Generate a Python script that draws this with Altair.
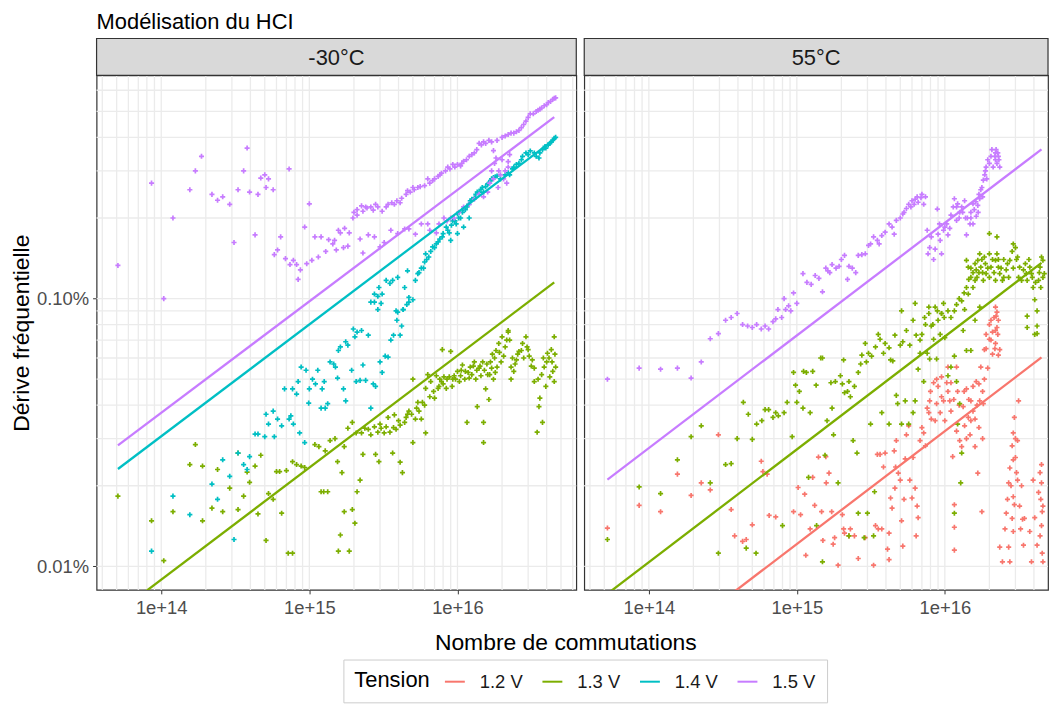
import altair as alt
import pandas as pd

FONT = "Liberation Sans"

title_text = "Modélisation du HCI"
x_title = "Nombre de commutations"
y_title = "Dérive fréquentielle"
legend_title = "Tension"
panels = ["-30°C", "55°C"]
tensions = ["1.2 V", "1.3 V", "1.4 V", "1.5 V"]
colors = ["#F8766D", "#7CAE00", "#00BFC4", "#C77CFF"]

x_ticks = [1e14, 1e15, 1e16]
x_tick_labels = ["1e+14", "1e+15", "1e+16"]
y_ticks = [0.01, 0.1]          # percent
y_tick_labels = ["0.01%", "0.10%"]

# ---------------- -30°C panel, measured points (x, drift in %) ----------------
cold_13 = [(5.1e13, 0.0183), (8.6e13, 0.0148), (1.04e14, 0.0105), (1.2e14, 0.016), (1.56e14, 0.024),
           (1.7e14, 0.0285), (1.9e14, 0.0148), (1.9e14, 0.0237), (2.2e14, 0.0165), (2.4e14, 0.023),
           (2.6e14, 0.016), (2.9e14, 0.0196), (3.3e14, 0.0265), (3.3e14, 0.0163), (3.6e14, 0.0183),
           (3.8e14, 0.0225), (3.95e14, 0.0206), (4.3e14, 0.0237), (4.5e14, 0.0157), (4.7e14, 0.026),
           (5.1e14, 0.0125), (5.3e14, 0.0187), (5.7e14, 0.0178), (6.0e14, 0.0226), (6.3e14, 0.0226),
           (6.5e14, 0.0158), (7.0e14, 0.0228), (7.2e14, 0.0112), (7.7e14, 0.0112), (7.7e14, 0.0246),
           (8.2e14, 0.024), (8.8e14, 0.0237), (9.3e14, 0.0234), (1.09e15, 0.0285), (1.16e15, 0.028),
           (1.2e15, 0.019), (1.25e15, 0.019), (1.33e15, 0.019), (1.28e15, 0.027), (1.38e15, 0.0295),
           (1.49e15, 0.030), (1.55e15, 0.0246), (1.57e15, 0.0114), (1.62e15, 0.0131), (1.66e15, 0.0224),
           (1.72e15, 0.016), (1.72e15, 0.028), (1.82e15, 0.0328), (1.86e15, 0.0114), (1.95e15, 0.0163),
           (1.95e15, 0.0345), (2.03e15, 0.0145), (2.07e15, 0.0315), (2.1e15, 0.019), (2.2e15, 0.021),
           (2.25e15, 0.0315), (2.3e15, 0.0262), (2.37e15, 0.0328), (2.5e15, 0.0325), (2.6e15, 0.031),
           (2.75e15, 0.0332), (2.8e15, 0.0262), (2.9e15, 0.0317), (2.95e15, 0.0246), (3.05e15, 0.0328),
           (3.2e15, 0.0315), (3.3e15, 0.0332), (3.5e15, 0.0317), (3.65e15, 0.0265), (3.75e15, 0.0368),
           (3.85e15, 0.0325), (4.1e15, 0.0245), (4.1e15, 0.0337), (4.25e15, 0.0224), (4.4e15, 0.0345),
           (4.6e15, 0.037), (4.7e15, 0.038), (5.0e15, 0.029), (5.0e15, 0.05), (5.2e15, 0.0355),
           (5.4e15, 0.041), (5.7e15, 0.0355), (5.8e15, 0.041), (6.1e15, 0.0315), (6.1e15, 0.0462),
           (6.3e15, 0.052), (6.6e15, 0.049), (7.0e15, 0.0425), (7.2e15, 0.0515), (7.4e15, 0.0462),
           (7.6e15, 0.05), (7.8e15, 0.049), (7.9e15, 0.0645), (8.1e15, 0.051), (8.4e15, 0.0462),
           (8.8e15, 0.051), (9.0e15, 0.0635), (9.3e15, 0.05), (9.5e15, 0.0515), (1.0e16, 0.0535),
           (1.03e16, 0.049), (1.05e16, 0.0515), (1.08e16, 0.0565), (1.13e16, 0.0535), (1.16e16, 0.0345),
           (1.2e16, 0.0505), (1.22e16, 0.0555), (1.3e16, 0.058), (1.33e16, 0.05), (1.36e16, 0.0395),
           (1.4e16, 0.055), (1.44e16, 0.0515), (1.48e16, 0.058), (1.5e16, 0.0345), (1.5e16, 0.029),
           (1.55e16, 0.046), (1.6e16, 0.052), (1.63e16, 0.042), (1.67e16, 0.058), (1.72e16, 0.062),
           (1.75e16, 0.05), (1.82e16, 0.064), (1.85e16, 0.0555), (1.9e16, 0.068), (2.0e16, 0.072),
           (2.05e16, 0.061), (2.2e16, 0.075), (2.2e16, 0.076), (2.25e16, 0.07), (2.3e16, 0.0555),
           (2.3e16, 0.05), (2.4e16, 0.0535), (2.5e16, 0.059), (2.6e16, 0.0635), (2.75e16, 0.068),
           (2.9e16, 0.072), (3.0e16, 0.0645), (3.2e16, 0.059), (3.3e16, 0.049), (3.45e16, 0.0317),
           (3.55e16, 0.0395), (3.6e16, 0.0425), (3.75e16, 0.0345), (3.85e16, 0.0555), (3.95e16, 0.047),
           (4.05e16, 0.0625), (4.2e16, 0.051), (4.3e16, 0.0645), (4.4e16, 0.0535), (4.5e16, 0.072),
           (4.6e16, 0.0555), (4.5e16, 0.049),
           (3.0e15, 0.034), (3.4e15, 0.036), (3.7e15, 0.033), (4.0e15, 0.035), (4.5e15, 0.036),
           (4.9e15, 0.037), (5.3e15, 0.039), (5.5e15, 0.038), (6.0e15, 0.040), (6.5e15, 0.043),
           (6.9e15, 0.045), (7.5e15, 0.047), (8.0e15, 0.048), (8.5e15, 0.050), (9.2e15, 0.047),
           (9.7e15, 0.050), (1.06e16, 0.054), (1.12e16, 0.050), (1.18e16, 0.053), (1.25e16, 0.052),
           (1.28e16, 0.056), (1.35e16, 0.054), (1.42e16, 0.056), (1.52e16, 0.054), (1.58e16, 0.057),
           (1.65e16, 0.052), (1.7e16, 0.055), (1.78e16, 0.060), (1.8e16, 0.053), (1.92e16, 0.063),
           (1.97e16, 0.058), (2.1e16, 0.066), (2.15e16, 0.070), (2.35e16, 0.060), (2.45e16, 0.057),
           (2.55e16, 0.062), (2.7e16, 0.064), (2.8e16, 0.060), (2.95e16, 0.066), (3.05e16, 0.061),
           (3.15e16, 0.056), (3.3e16, 0.055), (3.5e16, 0.050), (3.7e16, 0.052), (3.8e16, 0.060),
           (4.0e16, 0.058), (4.15e16, 0.060), (4.35e16, 0.058), (4.55e16, 0.062)]

cold_14 = [(1.2e14, 0.0183), (8.6e13, 0.0114), (1.56e14, 0.0156), (2.2e14, 0.0203), (2.4e14, 0.0178),
           (2.6e14, 0.025), (2.9e14, 0.0217), (3.1e14, 0.0126), (3.3e14, 0.0265), (3.6e14, 0.024),
           (3.8e14, 0.023), (3.95e14, 0.0257), (4.3e14, 0.0312), (4.5e14, 0.0312), (5.0e14, 0.0305),
           (5.1e14, 0.037), (5.3e14, 0.034), (5.7e14, 0.038), (5.8e14, 0.0305), (6.1e14, 0.0355),
           (6.5e14, 0.0335), (6.8e14, 0.046), (7.3e14, 0.0355), (7.5e14, 0.0365), (7.7e14, 0.046),
           (7.8e14, 0.034), (8.2e14, 0.044), (8.4e14, 0.049), (8.6e14, 0.0315), (8.8e14, 0.0555),
           (9.3e14, 0.029), (9.5e14, 0.054), (9.9e14, 0.0407), (1.0e15, 0.046), (1.05e15, 0.05),
           (1.1e15, 0.048), (1.14e15, 0.054), (1.2e15, 0.039), (1.22e15, 0.046), (1.26e15, 0.049),
           (1.28e15, 0.039), (1.33e15, 0.0405), (1.38e15, 0.058), (1.46e15, 0.057), (1.5e15, 0.0555),
           (1.55e15, 0.0505), (1.57e15, 0.064), (1.62e15, 0.066), (1.7e15, 0.046), (1.76e15, 0.0415),
           (1.76e15, 0.069), (1.82e15, 0.067), (1.93e15, 0.054), (1.98e15, 0.077), (2.03e15, 0.072),
           (2.07e15, 0.049), (2.1e15, 0.075), (2.2e15, 0.0495), (2.25e15, 0.076), (2.3e15, 0.0565),
           (2.4e15, 0.0495), (2.5e15, 0.073), (2.6e15, 0.039), (2.7e15, 0.048), (2.75e15, 0.097),
           (2.8e15, 0.047), (2.9e15, 0.091), (3.0e15, 0.058), (3.05e15, 0.096), (3.1e15, 0.053),
           (3.25e15, 0.061), (3.4e15, 0.0605), (3.55e15, 0.07), (3.7e15, 0.073), (3.9e15, 0.083),
           (3.95e15, 0.089), (4.1e15, 0.073), (4.2e15, 0.079), (4.3e15, 0.091), (4.55e15, 0.095),
           (4.7e15, 0.097), (2.6e15, 0.097), (2.75e15, 0.104), (2.9e15, 0.102), (2.95e15, 0.110),
           (3.1e15, 0.104), (3.3e15, 0.117), (3.5e15, 0.114), (3.65e15, 0.117), (3.85e15, 0.090),
           (3.95e15, 0.12), (4.3e15, 0.091), (4.4e15, 0.110), (4.6e15, 0.127), (4.7e15, 0.101),
           (5.0e15, 0.099), (5.2e15, 0.117), (5.4e15, 0.124), (5.7e15, 0.13), (6.0e15, 0.137),
           (6.1e15, 0.147), (6.4e15, 0.143), (6.8e15, 0.156), (7.2e15, 0.16), (7.6e15, 0.167),
           (7.9e15, 0.17), (8.4e15, 0.185), (8.8e15, 0.176), (9.3e15, 0.195), (9.8e15, 0.19),
           (1.0e16, 0.207), (1.05e16, 0.20), (1.1e16, 0.216), (1.16e16, 0.22), (1.22e16, 0.232),
           (1.3e16, 0.238), (1.36e16, 0.25), (1.44e16, 0.256), (1.5e16, 0.25), (1.6e16, 0.268),
           (1.67e16, 0.276), (1.75e16, 0.283), (1.85e16, 0.287), (1.95e16, 0.28), (2.2e16, 0.295),
           (2.25e16, 0.29), (2.35e16, 0.305), (2.5e16, 0.317), (2.6e16, 0.32), (2.75e16, 0.34),
           (2.9e16, 0.35), (3.1e16, 0.356), (3.4e16, 0.34), (3.55e16, 0.335), (3.75e16, 0.36),
           (3.95e16, 0.365), (4.2e16, 0.38), (4.4e16, 0.39), (4.5e16, 0.397),
           (5.5e15, 0.125), (5.9e15, 0.13), (6.2e15, 0.14), (6.6e15, 0.15), (7.0e15, 0.155),
           (7.4e15, 0.163), (8.0e15, 0.175), (8.6e15, 0.18), (9.1e15, 0.188), (9.6e15, 0.195),
           (1.02e16, 0.20), (1.08e16, 0.21), (1.13e16, 0.215), (1.19e16, 0.225), (1.25e16, 0.235),
           (1.33e16, 0.245), (1.4e16, 0.25), (1.47e16, 0.26), (1.55e16, 0.262), (1.63e16, 0.27),
           (1.7e16, 0.28), (1.8e16, 0.285), (2.1e16, 0.29), (2.4e16, 0.31), (2.7e16, 0.33),
           (3.0e16, 0.345), (3.3e16, 0.35), (3.6e16, 0.35), (3.9e16, 0.37), (4.1e16, 0.375),
           (4.3e16, 0.385), (4.6e16, 0.40), (9.0e15, 0.165), (1.0e16, 0.175), (1.1e16, 0.185),
           (1.2e16, 0.20)]

cold_15 = [(5.1e13, 0.133), (8.6e13, 0.27), (1.04e14, 0.100), (1.2e14, 0.20), (1.56e14, 0.255),
           (1.7e14, 0.30), (1.87e14, 0.34), (2.2e14, 0.245), (2.4e14, 0.233), (2.6e14, 0.24),
           (2.9e14, 0.225), (3.1e14, 0.162), (3.3e14, 0.255), (3.6e14, 0.30), (3.8e14, 0.365),
           (3.95e14, 0.25), (4.3e14, 0.173), (4.5e14, 0.245), (4.7e14, 0.282), (5.0e14, 0.29),
           (5.1e14, 0.26), (5.3e14, 0.28), (5.7e14, 0.255), (5.8e14, 0.146), (6.1e14, 0.152),
           (6.4e14, 0.17), (6.9e14, 0.141), (7.3e14, 0.305), (7.4e14, 0.134), (7.8e14, 0.139),
           (8.2e14, 0.134), (8.4e14, 0.118), (8.7e14, 0.128), (9.3e14, 0.185), (9.6e14, 0.135),
           (1.0e15, 0.226), (1.04e15, 0.139), (1.09e15, 0.17), (1.15e15, 0.143), (1.2e15, 0.17),
           (1.29e15, 0.15), (1.35e15, 0.166), (1.44e15, 0.16), (1.48e15, 0.165), (1.52e15, 0.152),
           (1.57e15, 0.18), (1.62e15, 0.176), (1.7e15, 0.155), (1.73e15, 0.183), (1.82e15, 0.157),
           (1.86e15, 0.176), (1.97e15, 0.20), (2.0e15, 0.21), (2.1e15, 0.215), (2.2e15, 0.167),
           (2.25e15, 0.222), (2.3e15, 0.148), (2.4e15, 0.22), (2.5e15, 0.173), (2.6e15, 0.22),
           (2.75e15, 0.17), (2.9e15, 0.22), (3.0e15, 0.156), (3.1e15, 0.212), (3.2e15, 0.162),
           (3.4e15, 0.225), (3.55e15, 0.18), (3.75e15, 0.225), (3.95e15, 0.175), (4.2e15, 0.237),
           (4.4e15, 0.182), (4.6e15, 0.253), (4.7e15, 0.182), (5.0e15, 0.26), (5.2e15, 0.174),
           (5.4e15, 0.26), (5.7e15, 0.19), (6.0e15, 0.264), (6.3e15, 0.28), (6.3e15, 0.19),
           (6.8e15, 0.276), (7.2e15, 0.176), (7.4e15, 0.286), (7.8e15, 0.294), (8.1e15, 0.20),
           (8.6e15, 0.31), (9.0e15, 0.20), (9.3e15, 0.317), (1.0e16, 0.317), (1.05e16, 0.313),
           (1.1e16, 0.326), (1.2e16, 0.34), (1.3e16, 0.35), (1.4e16, 0.38), (1.5e16, 0.385),
           (1.63e16, 0.39), (1.75e16, 0.357), (1.75e16, 0.28), (1.82e16, 0.335), (1.9e16, 0.30),
           (2.0e16, 0.40), (2.0e16, 0.33), (2.05e16, 0.28), (2.2e16, 0.31), (2.2e16, 0.41),
           (2.25e16, 0.345), (2.3e16, 0.415), (2.5e16, 0.42), (2.6e16, 0.425), (2.8e16, 0.447),
           (3.1e16, 0.49), (3.4e16, 0.50), (3.6e16, 0.51), (3.85e16, 0.525), (4.1e16, 0.54),
           (4.4e16, 0.555), (4.6e16, 0.562),
           (2.1e15, 0.205), (2.3e15, 0.212), (2.45e15, 0.218), (2.7e15, 0.214), (2.8e15, 0.225),
           (3.3e15, 0.22), (3.6e15, 0.228), (3.9e15, 0.232), (4.1e15, 0.228), (4.5e15, 0.245),
           (4.8e15, 0.25), (5.1e15, 0.255), (5.6e15, 0.262), (6.5e15, 0.27), (7.0e15, 0.28),
           (7.6e15, 0.29), (8.3e15, 0.30), (8.9e15, 0.305), (9.6e15, 0.31), (1.07e16, 0.32),
           (1.15e16, 0.33), (1.25e16, 0.345), (1.35e16, 0.36), (1.45e16, 0.375), (1.55e16, 0.38),
           (1.7e16, 0.385), (1.85e16, 0.39), (2.1e16, 0.405), (2.4e16, 0.415), (2.7e16, 0.435),
           (2.9e16, 0.46), (3.0e16, 0.475), (3.25e16, 0.49), (3.5e16, 0.505), (3.7e16, 0.515),
           (4.0e16, 0.53), (4.25e16, 0.545), (4.5e16, 0.56),
           (1.65e16, 0.27), (1.7e16, 0.30), (1.78e16, 0.32), (1.88e16, 0.26), (1.95e16, 0.29),
           (2.1e16, 0.30), (2.15e16, 0.27), (2.2e16, 0.325), (1.6e16, 0.25), (1.5e16, 0.24),
           (6.5e15, 0.18), (7.5e15, 0.19), (8.5e15, 0.195), (9.5e15, 0.20), (1.02e16, 0.21),
           (1.1e16, 0.22), (1.2e16, 0.225), (1.3e16, 0.235), (1.4e16, 0.245)]

# ---------------- 55°C panel, measured points ----------------
hot_12 = [(5.25e13, 0.0139), (8.6e13, 0.0169), (1.2e14, 0.016), (1.56e14, 0.0221), (1.93e14, 0.0184),
          (2.26e14, 0.0205), (2.6e14, 0.0193), (2.95e14, 0.031), (3.6e14, 0.0163), (3.8e14, 0.013),
          (4.3e14, 0.0124), (4.55e14, 0.0126), (5.0e14, 0.0143), (5.75e14, 0.0247), (5.9e14, 0.0226),
          (6.3e14, 0.0221), (6.5e14, 0.0155), (7.2e14, 0.0153), (9.5e14, 0.016), (1.02e15, 0.0197),
          (1.06e15, 0.0156), (1.13e15, 0.0186), (1.15e15, 0.011), (1.23e15, 0.0138), (1.28e15, 0.0215),
          (1.32e15, 0.0169), (1.4e15, 0.0256), (1.47e15, 0.016), (1.5e15, 0.0125), (1.57e15, 0.0257),
          (1.58e15, 0.0205), (1.65e15, 0.0223), (1.72e15, 0.016), (1.76e15, 0.0121), (1.8e15, 0.0128),
          (1.9e15, 0.0101), (2.03e15, 0.0156), (2.07e15, 0.0138), (2.1e15, 0.0133), (2.25e15, 0.013),
          (2.3e15, 0.0138), (2.45e15, 0.013), (2.6e15, 0.0107), (2.9e15, 0.0128), (3.3e15, 0.0101),
          (3.4e15, 0.0142), (3.5e15, 0.0262), (3.55e15, 0.0138), (3.65e15, 0.0262), (3.75e15, 0.0138),
          (3.85e15, 0.0235), (3.95e15, 0.0265), (4.1e15, 0.0116), (4.2e15, 0.0106), (4.2e15, 0.0133),
          (4.3e15, 0.018), (4.4e15, 0.0165), (4.55e15, 0.027), (4.6e15, 0.0196), (4.65e15, 0.0235),
          (4.7e15, 0.0295), (4.85e15, 0.0223), (5.0e15, 0.021), (5.1e15, 0.0148), (5.2e15, 0.0119),
          (5.3e15, 0.0178), (5.4e15, 0.0252), (5.5e15, 0.031), (5.7e15, 0.0335), (5.8e15, 0.021),
          (6.0e15, 0.018), (6.1e15, 0.0255), (6.3e15, 0.0196), (6.4e15, 0.013), (6.5e15, 0.0168),
          (6.6e15, 0.0152), (6.8e15, 0.0295), (7.0e15, 0.033), (7.2e15, 0.0315), (7.4e15, 0.0282),
          (7.6e15, 0.039), (7.8e15, 0.0375), (7.9e15, 0.0415), (8.1e15, 0.0355), (8.4e15, 0.0485),
          (8.6e15, 0.035), (8.8e15, 0.0405), (9.0e15, 0.047), (9.3e15, 0.0375), (9.5e15, 0.051),
          (9.8e15, 0.0415), (1.0e16, 0.035), (1.03e16, 0.0485), (1.05e16, 0.0555), (1.08e16, 0.0415),
          (1.1e16, 0.0485), (1.13e16, 0.0257), (1.16e16, 0.017), (1.16e16, 0.014), (1.16e16, 0.0115),
          (1.2e16, 0.0555), (1.22e16, 0.045), (1.26e16, 0.0295), (1.3e16, 0.028), (1.33e16, 0.0395),
          (1.36e16, 0.0335), (1.4e16, 0.046), (1.44e16, 0.036), (1.48e16, 0.031), (1.5e16, 0.0415),
          (1.55e16, 0.047), (1.6e16, 0.0355), (1.63e16, 0.049), (1.67e16, 0.0223), (1.72e16, 0.0415),
          (1.75e16, 0.0555), (1.82e16, 0.0405), (1.78e16, 0.016), (1.85e16, 0.0645), (1.9e16, 0.0735),
          (2.0e16, 0.0705), (2.05e16, 0.083), (2.2e16, 0.068), (2.2e16, 0.076), (2.22e16, 0.086),
          (2.28e16, 0.0735), (2.3e16, 0.0615), (2.2e16, 0.093), (2.25e16, 0.089), (2.35e16, 0.0118),
          (2.35e16, 0.0645), (2.45e16, 0.0104), (2.55e16, 0.0138), (2.6e16, 0.0158), (2.65e16, 0.0178),
          (2.7e16, 0.0118), (2.7e16, 0.0205), (2.75e16, 0.0233), (2.75e16, 0.0104), (2.85e16, 0.0282),
          (2.85e16, 0.0151), (2.9e16, 0.0182), (2.9e16, 0.0315), (2.9e16, 0.0135), (2.95e16, 0.036),
          (3.0e16, 0.0255), (3.05e16, 0.0224), (3.1e16, 0.0295), (3.15e16, 0.0415), (3.2e16, 0.0168),
          (3.25e16, 0.0138), (3.3e16, 0.02), (3.4e16, 0.012), (3.45e16, 0.0151), (3.75e16, 0.0135),
          (3.85e16, 0.0104), (3.95e16, 0.021), (4.05e16, 0.0152), (4.2e16, 0.012), (4.3e16, 0.0189),
          (4.4e16, 0.0224), (4.45e16, 0.0178), (4.5e16, 0.0142), (4.55e16, 0.0112), (4.6e16, 0.0168),
          (4.6e16, 0.0104), (4.5e16, 0.0205),
          (2.0e16, 0.080), (2.1e16, 0.075), (2.15e16, 0.085), (2.18e16, 0.065), (2.25e16, 0.078),
          (2.1e16, 0.062), (2.05e16, 0.070), (2.3e16, 0.083), (1.9e16, 0.065), (1.95e16, 0.055),
          (1.85e16, 0.050), (1.8e16, 0.045), (1.7e16, 0.048), (1.65e16, 0.040), (1.55e16, 0.038),
          (1.45e16, 0.042), (1.35e16, 0.045), (1.25e16, 0.040), (1.15e16, 0.042), (1.1e16, 0.038),
          (1.05e16, 0.045), (8.0e15, 0.045), (8.8e15, 0.050), (9.5e15, 0.043), (1.2e16, 0.032),
          (1.4e16, 0.030), (1.5e16, 0.035), (1.6e16, 0.028), (1.7e16, 0.033), (1.8e16, 0.030),
          (2.9e16, 0.025), (3.0e16, 0.030), (3.1e16, 0.021), (2.8e16, 0.020), (2.95e16, 0.017),
          (3.35e16, 0.015), (4.5e16, 0.024), (4.55e16, 0.016), (4.4e16, 0.013)]

hot_13 = [(5.25e13, 0.0126), (8.6e13, 0.0198), (1.2e14, 0.0187), (1.56e14, 0.025), (1.93e14, 0.0305),
          (2.26e14, 0.0335), (2.6e14, 0.0205), (2.95e14, 0.0112), (3.3e14, 0.024), (3.6e14, 0.0242),
          (3.95e14, 0.03), (4.35e14, 0.041), (4.55e14, 0.0117), (4.7e14, 0.037), (5.0e14, 0.0298),
          (5.3e14, 0.0112), (5.35e14, 0.034), (5.8e14, 0.035), (6.1e14, 0.0385), (6.45e14, 0.0385),
          (6.9e14, 0.036), (7.2e14, 0.0375), (7.5e14, 0.0365), (8.0e14, 0.0142), (8.2e14, 0.0375),
          (8.6e14, 0.041), (9.3e14, 0.0305), (9.5e14, 0.053), (9.8e14, 0.0475), (1.0e15, 0.041),
          (1.04e15, 0.045), (1.1e15, 0.039), (1.11e15, 0.0535), (1.16e15, 0.053), (1.2e15, 0.0215),
          (1.23e15, 0.0375), (1.28e15, 0.0535), (1.35e15, 0.0475), (1.36e15, 0.0142), (1.45e15, 0.06),
          (1.49e15, 0.06), (1.49e15, 0.0104), (1.55e15, 0.026), (1.6e15, 0.035), (1.7e15, 0.0485),
          (1.73e15, 0.039), (1.77e15, 0.031), (1.82e15, 0.049), (1.9e15, 0.0205), (1.97e15, 0.0515),
          (2.03e15, 0.048), (2.07e15, 0.059), (2.1e15, 0.0445), (2.2e15, 0.045), (2.25e15, 0.013),
          (2.25e15, 0.049), (2.3e15, 0.043), (2.4e15, 0.0295), (2.45e15, 0.047), (2.55e15, 0.0265),
          (2.6e15, 0.0158), (2.6e15, 0.053), (2.7e15, 0.057), (2.75e15, 0.0615), (2.85e15, 0.0128),
          (2.9e15, 0.068), (2.95e15, 0.058), (3.0e15, 0.0158), (3.05e15, 0.0625), (3.15e15, 0.034),
          (3.2e15, 0.061), (3.3e15, 0.013), (3.35e15, 0.019), (3.4e15, 0.066), (3.55e15, 0.0735),
          (3.65e15, 0.0705), (3.75e15, 0.0375), (3.85e15, 0.0625), (3.95e15, 0.068), (4.2e15, 0.034),
          (4.2e15, 0.0655), (4.3e15, 0.059), (4.45e15, 0.0585), (4.6e15, 0.073), (4.7e15, 0.0435),
          (4.8e15, 0.0405), (5.0e15, 0.067), (5.1e15, 0.034), (5.2e15, 0.069), (5.4e15, 0.0415),
          (5.5e15, 0.076), (5.7e15, 0.034), (5.8e15, 0.067), (6.1e15, 0.0375), (6.1e15, 0.083),
          (6.3e15, 0.0415), (6.4e15, 0.073), (6.6e15, 0.0545), (6.8e15, 0.0625), (7.0e15, 0.0735),
          (7.2e15, 0.049), (7.4e15, 0.08), (7.6e15, 0.0625), (7.8e15, 0.088), (7.9e15, 0.0595),
          (8.1e15, 0.079), (8.4e15, 0.0705), (8.6e15, 0.093), (8.8e15, 0.0595), (9.0e15, 0.083),
          (9.3e15, 0.0735), (9.5e15, 0.088), (9.8e15, 0.096), (1.0e16, 0.0715), (1.05e16, 0.0515),
          (1.1e16, 0.0555), (1.16e16, 0.0158), (1.16e16, 0.061), (1.2e16, 0.049), (1.22e16, 0.034),
          (1.26e16, 0.0405), (1.28e16, 0.0205), (1.3e16, 0.0265), (1.33e16, 0.076), (1.36e16, 0.091),
          (1.4e16, 0.064), (1.5e16, 0.064), (1.6e16, 0.083), (1.72e16, 0.093), (2.0e16, 0.175),
          (2.25e16, 0.17), (2.9e16, 0.16), (1.4e16, 0.139), (1.44e16, 0.131), (1.5e16, 0.12),
          (1.55e16, 0.11), (1.6e16, 0.117), (1.63e16, 0.128), (1.67e16, 0.139), (1.72e16, 0.147),
          (1.75e16, 0.131), (1.82e16, 0.117), (1.85e16, 0.143), (1.9e16, 0.124), (2.0e16, 0.147),
          (2.05e16, 0.131), (2.2e16, 0.139), (2.2e16, 0.117), (2.25e16, 0.147), (2.3e16, 0.131),
          (2.35e16, 0.124), (2.45e16, 0.117), (2.5e16, 0.12), (2.6e16, 0.128), (2.75e16, 0.139),
          (2.85e16, 0.15), (3.0e16, 0.155), (3.1e16, 0.143), (3.2e16, 0.131), (3.3e16, 0.117),
          (3.4e16, 0.128), (3.55e16, 0.124), (3.6e16, 0.117), (3.75e16, 0.131), (3.85e16, 0.124),
          (3.95e16, 0.11), (4.05e16, 0.099), (4.2e16, 0.09), (4.3e16, 0.117), (4.4e16, 0.131),
          (4.5e16, 0.143), (4.6e16, 0.139), (4.7e16, 0.124), (5.1e15, 0.09), (6.3e15, 0.096),
          (7.8e15, 0.093), (9.5e15, 0.088), (1.16e16, 0.09), (1.3e16, 0.098), (1.44e16, 0.104),
          (3.6e16, 0.078), (4.2e16, 0.074), (4.2e16, 0.079), (4.05e16, 0.0735), (3.6e16, 0.086),
          (1.1e16, 0.085), (1.2e16, 0.095), (1.25e16, 0.10), (1.35e16, 0.105), (1.4e16, 0.11),
          (1.45e16, 0.118), (1.5e16, 0.13), (1.55e16, 0.125), (1.6e16, 0.135), (1.65e16, 0.12),
          (1.7e16, 0.125), (1.78e16, 0.14), (1.8e16, 0.125), (1.88e16, 0.135), (1.95e16, 0.13),
          (2.0e16, 0.12), (2.1e16, 0.14), (2.15e16, 0.125), (2.3e16, 0.14), (2.4e16, 0.13),
          (2.5e16, 0.14), (2.65e16, 0.135), (2.7e16, 0.12), (2.9e16, 0.13), (3.05e16, 0.14),
          (3.15e16, 0.12), (3.5e16, 0.135), (3.7e16, 0.14), (3.9e16, 0.12), (4.1e16, 0.115),
          (4.35e16, 0.125), (4.45e16, 0.11), (4.6e16, 0.12), (6.8e15, 0.07), (7.3e15, 0.085),
          (8.3e15, 0.08), (8.9e15, 0.09), (9.9e15, 0.085), (1.05e16, 0.09)]

hot_15 = [(5.25e13, 0.050), (8.6e13, 0.055), (1.2e14, 0.0545), (1.56e14, 0.055), (1.93e14, 0.0505),
          (2.26e14, 0.058), (2.6e14, 0.0708), (2.95e14, 0.074), (3.3e14, 0.083), (3.6e14, 0.085),
          (3.95e14, 0.088), (4.3e14, 0.08), (4.65e14, 0.079), (5.0e14, 0.078), (5.35e14, 0.08),
          (5.75e14, 0.077), (6.1e14, 0.079), (6.45e14, 0.077), (6.9e14, 0.082), (7.2e14, 0.084),
          (7.45e14, 0.091), (7.9e14, 0.085), (8.4e14, 0.091), (9.1e14, 0.09), (1.0e15, 0.096),
          (8.2e14, 0.1), (8.8e14, 0.094), (9.5e14, 0.105), (1.1e15, 0.124), (1.17e15, 0.115),
          (1.25e15, 0.113), (1.33e15, 0.122), (1.41e15, 0.119), (1.49e15, 0.106), (1.57e15, 0.13),
          (1.62e15, 0.127), (1.67e15, 0.125), (1.73e15, 0.134), (1.84e15, 0.13), (1.93e15, 0.132),
          (2.0e15, 0.14), (2.1e15, 0.145), (2.2e15, 0.118), (2.25e15, 0.132), (2.37e15, 0.13),
          (2.5e15, 0.125), (2.6e15, 0.145), (2.75e15, 0.146), (2.9e15, 0.147), (3.05e15, 0.158),
          (3.15e15, 0.16), (3.3e15, 0.17), (3.5e15, 0.165), (3.6e15, 0.16), (3.75e15, 0.172),
          (3.95e15, 0.177), (4.2e15, 0.19), (4.4e15, 0.185), (4.55e15, 0.174), (4.7e15, 0.196),
          (5.0e15, 0.20), (5.2e15, 0.207), (5.5e15, 0.217), (5.7e15, 0.225), (6.0e15, 0.232),
          (6.3e15, 0.235), (6.6e15, 0.229), (6.9e15, 0.238), (7.2e15, 0.225), (7.6e15, 0.18),
          (7.7e15, 0.147), (7.9e15, 0.155), (8.1e15, 0.17), (8.4e15, 0.14), (8.6e15, 0.153),
          (8.9e15, 0.216), (9.0e15, 0.174), (9.3e15, 0.165), (9.5e15, 0.147), (9.8e15, 0.18),
          (1.03e16, 0.19), (1.05e16, 0.173), (1.08e16, 0.183), (1.1e16, 0.205), (1.14e16, 0.22),
          (1.16e16, 0.236), (1.2e16, 0.196), (1.22e16, 0.226), (1.26e16, 0.21), (1.3e16, 0.22),
          (1.36e16, 0.232), (1.4e16, 0.173), (1.42e16, 0.20), (1.48e16, 0.19), (1.5e16, 0.21),
          (1.55e16, 0.226), (1.63e16, 0.203), (1.67e16, 0.223), (1.72e16, 0.236), (1.75e16, 0.255),
          (1.82e16, 0.277), (1.86e16, 0.29), (1.9e16, 0.31), (2.0e16, 0.32), (2.05e16, 0.34),
          (2.2e16, 0.35), (2.2e16, 0.33), (2.25e16, 0.32), (2.3e16, 0.34), (2.35e16, 0.31),
          (2.22e16, 0.36),
          (1.5e16, 0.20), (1.55e16, 0.19), (1.58e16, 0.215), (1.62e16, 0.23), (1.68e16, 0.21),
          (1.7e16, 0.245), (1.78e16, 0.26), (1.8e16, 0.24), (1.88e16, 0.30), (1.92e16, 0.28),
          (1.95e16, 0.33), (2.08e16, 0.36), (2.12e16, 0.31), (2.18e16, 0.34), (2.28e16, 0.35),
          (2.32e16, 0.33), (1.25e16, 0.20), (1.32e16, 0.21), (1.38e16, 0.20), (1.2e16, 0.22),
          (1.0e16, 0.185), (9.2e15, 0.19), (6.2e15, 0.225), (6.5e15, 0.24), (7.0e15, 0.245),
          (7.4e15, 0.24), (5.9e15, 0.22), (5.3e15, 0.21)]

# ---------------- fitted power-law lines (end points) ----------------
fit_cold = {"1.3 V": [(5.1e13, 0.00673), (4.5e16, 0.115)],
            "1.4 V": [(5.1e13, 0.0231), (4.5e16, 0.393)],
            "1.5 V": [(5.1e13, 0.0283), (4.5e16, 0.476)]}
fit_hot = {"1.2 V": [(5.25e13, 0.0035), (4.5e16, 0.0603)],
           "1.3 V": [(5.25e13, 0.0079), (4.5e16, 0.136)],
           "1.5 V": [(5.25e13, 0.0211), (4.5e16, 0.361)]}

# ---------------- layout ----------------
W_LEFT, W_RIGHT, H = 482, 466, 517
STRIP = 37
X_DOM_LEFT = [3.66e13, 6.34e16]
X_DOM_RIGHT = [3.66e13, 4.98e16]
Y_DOM = [0.00817, 0.682]


def pts_frame(series):
    rows = []
    for tension, pts in series:
        for x, y in pts:
            rows.append({"x": x, "y": y, "tension": tension})
    return pd.DataFrame(rows)


def fit_frame(fits):
    rows = []
    for tension, pts in fits.items():
        for x, y in pts:
            rows.append({"x": x, "y": y, "tension": tension})
    return pd.DataFrame(rows)


def label_expr(vals, labels):
    expr = "''"
    for v, l in reversed(list(zip(vals, labels))):
        expr = f"abs(datum.value - {v}) < {v} * 0.01 ? '{l}' : " + expr
    return expr


PLUS = "M-1,0L1,0M0,-1L0,1"

legend = alt.Legend(
    title=legend_title, orient="none", legendX=248, legendY=587, direction="horizontal",
    titleOrient="left", titleFontSize=22, titleFont=FONT, titleFontWeight="normal",
    titleColor="black", titlePadding=14, labelFont=FONT, labelFontSize=18.5, labelColor="#1A1A1A",
    symbolType="stroke", symbolStrokeWidth=2, symbolSize=400, labelOffset=14, columnPadding=15,
    strokeColor="#CCCCCC", fillColor="white", padding=11,
)
color = alt.Color("tension:N", scale=alt.Scale(domain=tensions, range=colors), legend=legend)


def make_panel(name, pts_df, fit_df, xdom, width, left):
    xs = alt.Scale(type="log", domain=xdom, nice=False)
    ys = alt.Scale(type="log", domain=Y_DOM, nice=False)
    xaxis = alt.Axis(values=x_ticks, labelExpr=label_expr(x_ticks, x_tick_labels), grid=False,
                     domain=False, tickSize=4, tickColor="#333333", labelPadding=5,
                     title=x_title if left else None, titleX=471, titleAlign="center",
                     titleAnchor="start", titlePadding=14)
    if left:
        yaxis = alt.Axis(values=y_ticks, labelExpr=label_expr(y_ticks, y_tick_labels), grid=False,
                         domain=False, tickSize=4, tickColor="#333333", labelPadding=4,
                         title=y_title, titlePadding=3)
    else:
        yaxis = None

    def X(field):
        return alt.X(field, type="quantitative", scale=xs, axis=xaxis)

    def Y(field):
        if yaxis is None:
            return alt.Y(field, type="quantitative", scale=ys, axis=None)
        return alt.Y(field, type="quantitative", scale=ys, axis=yaxis)

    gx = [k * 10.0 ** e for e in (13, 14, 15, 16) for k in range(1, 10)]
    gx = [v for v in gx if 3.9e13 <= v <= xdom[1]]
    gy = [k * 10.0 ** e for e in (-2, -1) for k in range(1, 10)]
    gy = [v for v in gy if Y_DOM[0] <= v <= Y_DOM[1]]

    grid_x = alt.Chart(pd.DataFrame({"gx": gx})).mark_rule(
        color="#EBEBEB", strokeWidth=1.3).encode(x=X("gx"))
    grid_y = alt.Chart(pd.DataFrame({"gy": gy})).mark_rule(
        color="#EBEBEB", strokeWidth=1.3).encode(y=Y("gy"))
    points = alt.Chart(pts_df).mark_point(
        shape=PLUS, filled=False, size=26, strokeWidth=1.7, opacity=1, clip=True
    ).encode(x=X("x"), y=Y("y"), color=color)
    lines = alt.Chart(fit_df).mark_line(strokeWidth=2.3, clip=True).encode(
        x=X("x"), y=Y("y"), color=color)
    sdf = pd.DataFrame({"panel": [name]})
    strip_rect = alt.Chart(sdf).mark_rect(fill="#D9D9D9", stroke="#333333", strokeWidth=1.2).encode(
        x=alt.value(0), x2=alt.value(width), y=alt.value(-STRIP), y2=alt.value(0))
    strip_text = alt.Chart(sdf).mark_text(font=FONT, fontSize=22, color="#1A1A1A",
                                          baseline="middle").encode(
        x=alt.value(width / 2), y=alt.value(-STRIP / 2 + 1), text="panel:N")

    layer = alt.layer(grid_x, grid_y, points, lines, strip_rect, strip_text).properties(
        width=width, height=H)
    if left:
        layer = layer.properties(title=alt.TitleParams(
            title_text, anchor="start", frame="group", fontSize=22, font=FONT,
            fontWeight="normal", color="black", offset=4))
    return layer


left_pts = pts_frame([("1.3 V", cold_13), ("1.4 V", cold_14), ("1.5 V", cold_15)])
right_pts = pts_frame([("1.2 V", hot_12), ("1.3 V", hot_13), ("1.5 V", hot_15)])

left = make_panel(panels[0], left_pts, fit_frame(fit_cold), X_DOM_LEFT, W_LEFT, True)
right = make_panel(panels[1], right_pts, fit_frame(fit_hot), X_DOM_RIGHT, W_RIGHT, False)

chart = alt.hconcat(left, right, spacing=8, bounds="flush").properties(
    padding={"left": 1, "top": 0, "right": 2, "bottom": 0}, background="white"
).configure_view(stroke="#333333", strokeWidth=1.2).configure_axis(
    labelFont=FONT, labelFontSize=18.5, labelColor="#4D4D4D", titleFont=FONT,
    titleFontSize=23, titleFontWeight="normal", titleColor="black"
)

chart.save("out.html", embed_options={"renderer": "svg", "actions": False})
